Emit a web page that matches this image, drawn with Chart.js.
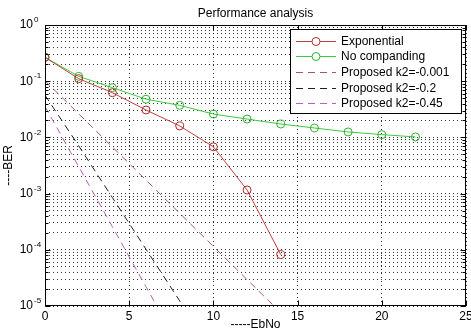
<!DOCTYPE html>
<html><head><meta charset="utf-8">
<script src="https://cdn.jsdelivr.net/npm/chart.js@4/dist/chart.umd.min.js"></script>
<style>html,body{margin:0;padding:0;background:#fff;}canvas{display:block;}</style>
</head><body>
<canvas id="c" width="471" height="332"></canvas>
<script>
const chartTitle = 'Performance analysis';
const xTitle = '-----EbNo';
const yTitle = '----BER';
const seriesLabels = ['Exponential', 'No companding', 'Proposed k2=-0.001', 'Proposed k2=-0.2', 'Proposed k2=-0.45'];

const expX = [0, 2, 4, 6, 8, 10, 12, 14];
const expBER = [0.266, 0.111, 0.0625, 0.0307, 0.016, 0.0068, 0.00116, 0.000082];

const noCompX = [0, 2, 4, 6, 8, 10, 12, 14, 16, 18, 20, 22];
const noCompBER = [0.266, 0.122, 0.0767, 0.0478, 0.0372, 0.026, 0.0212, 0.0173, 0.0147, 0.0125, 0.0112, 0.0102];

const k001X = [0, 1, 2, 3, 4, 5, 6, 7, 8, 9, 10, 11, 12, 13, 14];
const k001BER = [0.102, 0.0519, 0.0263, 0.0133, 0.00676, 0.00343, 0.00174, 0.00088, 0.000447, 0.000226, 0.000115, 0.0000582, 0.0000295, 0.000015, 0.0000076];

const k02X = [0, 1, 2, 3, 4, 5, 6, 7, 8, 9];
const k02BER = [0.0562, 0.02, 0.00708, 0.00245, 0.00085, 0.000295, 0.000102, 0.0000355, 0.0000123, 0.000004];

const k045X = [0, 1, 2, 3, 4, 5, 6, 7];
const k045BER = [0.0355, 0.01035, 0.00302, 0.00088, 0.000257, 0.000075, 0.0000219, 0.0000064];

const xTicks = [0, 5, 10, 15, 20, 25];
const yDecades = [-5, -4, -3, -2, -1, 0];

const yTickValues = [];
yDecades.forEach((e, i) => {
  const lastDecade = i === yDecades.length - 1;
  const mults = lastDecade ? [1] : [1, 2, 3, 4, 5, 6, 7, 8, 9];
  mults.forEach(m => yTickValues.push(m * Math.pow(10, e)));
});

function isDecade(v) {
  const l = Math.log10(v);
  return Math.abs(l - Math.round(l)) < 1e-9;
}
function pts(xs, ys) { return xs.map((x, i) => ({ x: x, y: ys[i] })); }

const FONT = '"Liberation Sans", Arial, Helvetica, sans-serif';
Chart.defaults.font.family = FONT;
Chart.defaults.font.size = 12;
Chart.defaults.color = '#000';

const frame = {
  id: 'frame',
  afterDatasetsDraw(chart) {
    const ctx = chart.ctx, a = chart.chartArea, x = chart.scales.x, y = chart.scales.y;
    ctx.save();
    ctx.setLineDash([]);
    ctx.strokeStyle = '#000';
    ctx.lineWidth = 1;
    const L = Math.round(a.left) + 0.5, R = Math.round(a.right) - 0.5;
    const T = Math.round(a.top) + 0.5, B = Math.round(a.bottom) - 0.5;
    ctx.strokeRect(L, T, R - L, B - T);
    ctx.beginPath();
    y.ticks.forEach(t => {
      const p = Math.round(y.getPixelForValue(t.value)) + 0.5;
      const len = isDecade(t.value) ? 5 : 3;
      ctx.moveTo(L, p); ctx.lineTo(L + len, p);
      ctx.moveTo(R, p); ctx.lineTo(R - len, p);
    });
    x.ticks.forEach(t => {
      const p = Math.round(x.getPixelForValue(t.value)) + 0.5;
      ctx.moveTo(p, B); ctx.lineTo(p, B - 5);
      ctx.moveTo(p, T); ctx.lineTo(p, T + 5);
    });
    ctx.stroke();

    // exponents of y tick labels
    ctx.fillStyle = '#000';
    ctx.font = '8px ' + FONT;
    ctx.textAlign = 'left';
    ctx.textBaseline = 'middle';
    y.ticks.forEach(t => {
      if (isDecade(t.value)) {
        const p = y.getPixelForValue(t.value);
        ctx.fillText(String(Math.round(Math.log10(t.value))), a.left - 11, p - 5);
      }
    });

    // legend inside the axes
    const lw = 172, rowH = 15.6;
    const lr = Math.round(a.right) - 4, lt = Math.round(a.top) + 4;
    const ll = lr - lw;
    const n = chart.data.datasets.length;
    const lb = lt + 11.8 + (n - 1) * rowH + 10.5;
    ctx.fillStyle = '#fff';
    ctx.fillRect(ll, lt, lw, lb - lt);
    ctx.strokeStyle = '#000';
    ctx.strokeRect(ll + 0.5, lt + 0.5, lw - 1, Math.round(lb - lt) - 1);
    ctx.font = '12px ' + FONT;
    chart.data.datasets.forEach((ds, i) => {
      const yc = Math.round(lt + 11.8 + i * rowH) + 0.5;
      ctx.strokeStyle = ds.borderColor;
      ctx.lineWidth = ds.borderWidth || 1;
      ctx.setLineDash(ds.borderDash || []);
      ctx.beginPath();
      ctx.moveTo(ll + 6, yc); ctx.lineTo(ll + 46, yc);
      ctx.stroke();
      ctx.setLineDash([]);
      if (ds.pointRadius > 0) {
        ctx.strokeStyle = ds.pointBorderColor;
        ctx.lineWidth = 1;
        ctx.beginPath();
        ctx.arc(ll + 26, yc, ds.pointRadius, 0, Math.PI * 2);
        ctx.fillStyle = '#fff';
        ctx.fill();
        ctx.stroke();
      }
      ctx.fillStyle = '#000';
      ctx.textAlign = 'left';
      ctx.textBaseline = 'middle';
      ctx.fillText(ds.label, ll + 51, yc);
    });
    ctx.restore();
  }
};

const gridColor = 'rgba(0,0,0,0.8)';

new Chart(document.getElementById('c'), {
  type: 'line',
  data: {
    datasets: [
      { label: seriesLabels[0], data: pts(expX, expBER), borderColor: '#c04040', borderWidth: 1,
        pointRadius: 4, pointBorderColor: '#b02828', pointBackgroundColor: 'rgba(0,0,0,0)', pointBorderWidth: 1, tension: 0 },
      { label: seriesLabels[1], data: pts(noCompX, noCompBER), borderColor: '#3ccc3c', borderWidth: 1,
        pointRadius: 4, pointBorderColor: '#30b030', pointBackgroundColor: 'rgba(0,0,0,0)', pointBorderWidth: 1, tension: 0 },
      { label: seriesLabels[2], data: pts(k001X, k001BER), borderColor: '#a85858', borderWidth: 1,
        borderDash: [7, 5], pointRadius: 0, tension: 0 },
      { label: seriesLabels[3], data: pts(k02X, k02BER), borderColor: '#202020', borderWidth: 1,
        borderDash: [7, 5], pointRadius: 0, tension: 0 },
      { label: seriesLabels[4], data: pts(k045X, k045BER), borderColor: '#b860b8', borderWidth: 1,
        borderDash: [7, 5], pointRadius: 0, tension: 0 }
    ]
  },
  options: {
    responsive: false,
    animation: false,
    devicePixelRatio: 1,
    layout: { padding: { left: 0, right: 5, top: 0, bottom: 0 } },
    plugins: {
      legend: { display: false },
      tooltip: { enabled: false },
      title: { display: true, text: chartTitle, fullSize: false, color: '#000',
        font: { size: 12, weight: 'normal' }, padding: { top: 6, bottom: 4.6 } }
    },
    scales: {
      x: {
        type: 'linear', min: 0, max: 25,
        afterBuildTicks: s => { s.ticks = xTicks.map(v => ({ value: v })); },
        afterFit: s => { s.height = 26; s.paddingLeft = 0; s.paddingRight = 0; },
        ticks: { padding: 3, color: '#000', font: { size: 12 }, maxRotation: 0, autoSkip: false },
        grid: { color: gridColor, lineWidth: 1, drawTicks: false },
        border: { display: false, dash: [1, 3] },
        title: { display: true, text: xTitle, color: '#000', font: { size: 12 }, padding: { top: -7, bottom: 0 } }
      },
      y: {
        type: 'logarithmic', min: 1e-5, max: 1,
        afterBuildTicks: s => { s.ticks = yTickValues.map(v => ({ value: v, major: isDecade(v) })); },
        afterFit: s => { s.width = 45; s.paddingTop = 0; s.paddingBottom = 0; },
        ticks: { padding: 12, color: '#000', font: { size: 12 }, autoSkip: false,
          callback: v => isDecade(v) ? '10' : '' },
        grid: { color: gridColor, lineWidth: 1, drawTicks: false },
        border: { display: false, dash: [1, 3] },
        title: { display: true, text: yTitle, color: '#000', font: { size: 12 }, padding: { top: 1, bottom: 0 } }
      }
    }
  },
  plugins: [frame]
});
</script>
</body></html>
